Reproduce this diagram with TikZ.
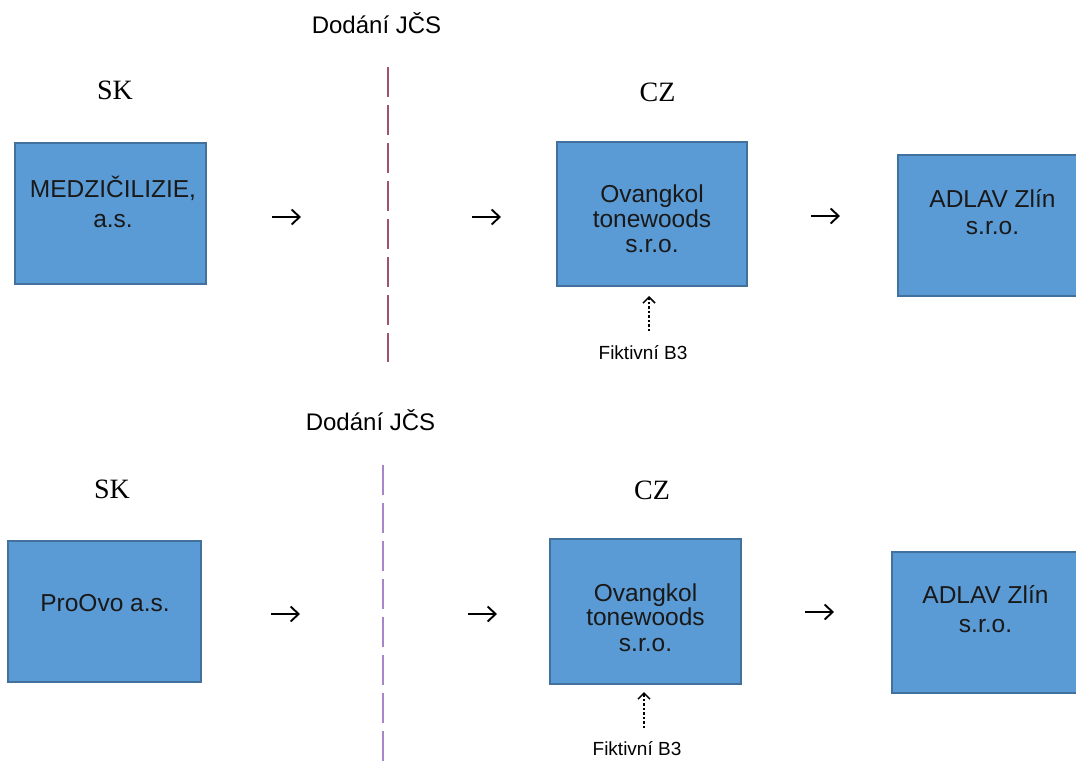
\documentclass[tikz,border=0pt]{standalone}
\usepackage{fontspec}
\setmainfont{Liberation Sans}
\newfontfamily\serifx{Liberation Serif}
\usetikzlibrary{arrows.meta}
\definecolor{boxfill}{HTML}{5B9BD5}
\definecolor{boxline}{HTML}{41719C}
\definecolor{bordtop}{HTML}{A0526D}
\definecolor{bordbot}{HTML}{A887C8}
\begin{document}
\begin{tikzpicture}[x=1pt,y=-1pt,
  firm/.style={draw=boxline, fill=boxfill, line width=1.6pt, inner sep=0pt},
  lbl/.style={font=\fontsize{24.5}{28}\selectfont, text=black!90, inner sep=0pt, anchor=base},
  country/.style={font=\serifx\fontsize{28}{30}\selectfont, inner sep=0pt, anchor=base},
  head/.style={font=\fontsize{24}{26}\selectfont, inner sep=0pt, anchor=base},
  small/.style={font=\fontsize{19}{22}\selectfont, inner sep=0pt, anchor=base},
  harrow/.style={line width=1.9pt, -{Straight Barb[length=8pt,width=15pt,line width=1.9pt]}},
  farrow/.style={line width=1.5pt, dash pattern=on 2.5pt off 2pt, -{Straight Barb[length=6pt,width=12pt,line width=1.5pt]}},
  bordline/.style={line width=1.6pt, dash pattern=on 30pt off 8pt}]
\useasboundingbox (0,0) rectangle (1076,761);

% ---------- top row ----------
\node[head] (h1) at (376.5,33) {Dodání JČS};
\node[country] (sk1) at (115,99) {SK};
\node[country] (cz1) at (657.5,101) {CZ};
\coordinate (d1t) at (388,67);
\coordinate (d1b) at (388,362);
\draw[bordline, draw=bordtop] (d1t) -- (d1b);

\node[firm, minimum width=191pt, minimum height=141pt] (m1) at (110.5,213.5) {};
\node[lbl] (m1a) at (113,197) {MEDZIČILIZIE,};
\node[lbl] (m1b) at (113,227) {a.s.};

\node[firm, minimum width=190pt, minimum height=144pt] (o1) at (652,214) {};
\node[lbl] (o1a) at (652,202) {Ovangkol};
\node[lbl] (o1b) at (652,227) {tonewoods};
\node[lbl] (o1c) at (652,252) {s.r.o.};

\node[firm, minimum width=200pt, minimum height=141pt, anchor=north west] (z1) at (897,154) {};
\node[lbl] (z1a) at (992.5,207) {ADLAV Zlín};
\node[lbl] (z1b) at (992.5,234) {s.r.o.};

\coordinate (a1s) at (272,217); \coordinate (a1e) at (301,217);
\coordinate (a2s) at (472,217); \coordinate (a2e) at (501,217);
\coordinate (a3s) at (811,216); \coordinate (a3e) at (840,216);
\draw[harrow] (a1s) -- (a1e);
\draw[harrow] (a2s) -- (a2e);
\draw[harrow] (a3s) -- (a3e);

\node[small] (f1) at (643,359) {Fiktivní B3};
\coordinate (f1s) at (649,331);
\coordinate (f1e) at (649,296);
\draw[farrow] (f1s) -- (f1e);

% ---------- bottom row ----------
\node[head] (h2) at (370.5,430) {Dodání JČS};
\node[country] (sk2) at (112,498) {SK};
\node[country] (cz2) at (652,499) {CZ};
\coordinate (d2t) at (383,465);
\coordinate (d2b) at (383,761);
\draw[bordline, draw=bordbot] (d2t) -- (d2b);

\node[firm, minimum width=193pt, minimum height=141pt] (p2) at (104.5,611.5) {};
\node[lbl] (p2a) at (105,611) {ProOvo a.s.};

\node[firm, minimum width=191pt, minimum height=145pt] (o2) at (645.5,611.5) {};
\node[lbl] (o2a) at (645.5,601) {Ovangkol};
\node[lbl] (o2b) at (645.5,625) {tonewoods};
\node[lbl] (o2c) at (645.5,651) {s.r.o.};

\node[firm, minimum width=200pt, minimum height=141pt, anchor=north west] (z2) at (891,551) {};
\node[lbl] (z2a) at (985.5,603) {ADLAV Zlín};
\node[lbl] (z2b) at (985.5,632) {s.r.o.};

\coordinate (b1s) at (271,614); \coordinate (b1e) at (300,614);
\coordinate (b2s) at (468,614); \coordinate (b2e) at (497,614);
\coordinate (b3s) at (805,612); \coordinate (b3e) at (834,612);
\draw[harrow] (b1s) -- (b1e);
\draw[harrow] (b2s) -- (b2e);
\draw[harrow] (b3s) -- (b3e);

\node[small] (f2) at (637,755) {Fiktivní B3};
\coordinate (f2s) at (644,728);
\coordinate (f2e) at (644,692);
\draw[farrow] (f2s) -- (f2e);
\end{tikzpicture}
\end{document}
